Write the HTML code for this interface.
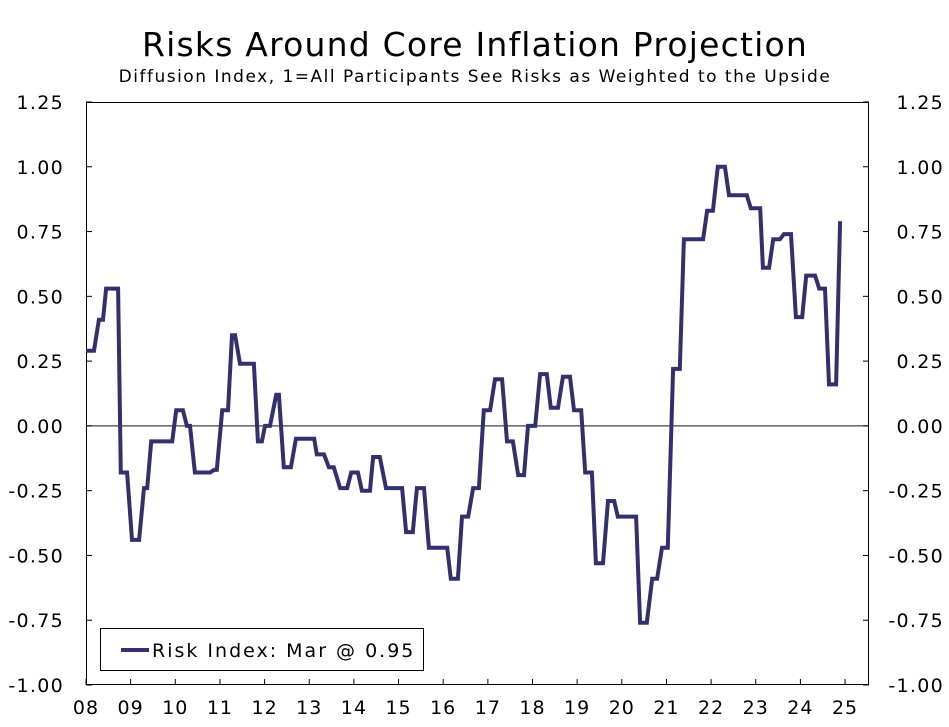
<!DOCTYPE html>
<html><head><meta charset="utf-8">
<style>
html,body{margin:0;padding:0;background:#fff;}
svg{display:block;font-family:"DejaVu Sans","Liberation Sans",sans-serif;}
</style></head>
<body>
<svg id="chart" width="949" height="727" viewBox="0 0 949 727" xmlns="http://www.w3.org/2000/svg">
<text x="475" y="56" text-anchor="middle" font-size="33" letter-spacing="1.2" fill="#000">Risks Around Core Inflation Projection</text>
<text x="475" y="82" text-anchor="middle" font-size="17" letter-spacing="1.5" fill="#000">Diffusion Index, 1=All Participants See Risks as Weighted to the Upside</text>
<g id="axes"></g>
<g id="series"></g>
<g>
<rect x="100.5" y="628.5" width="323" height="42" fill="#fff" stroke="#000" stroke-width="1"/>
<line x1="121" y1="650" x2="149" y2="650" stroke="#33306e" stroke-width="4"/>
<text x="152" y="657" font-size="19" letter-spacing="2" fill="#000">Risk Index: Mar @ 0.95</text>
</g>
</svg>
<script>
const yTicks = [1.25,1.00,0.75,0.50,0.25,0.00,-0.25,-0.50,-0.75,-1.00];
const xTickYears = [2008,2009,2010,2011,2012,2013,2014,2015,2016,2017,2018,2019,2020,2021,2022,2023,2024,2025];
const xTickLabels = ["08","09","10","11","12","13","14","15","16","17","18","19","20","21","22","23","24","25"];
const segStart = [0,0.29,0.45,0.78,1.03,1.30,1.46,2.02,2.26,2.44,2.87,3.05,3.27,3.45,3.85,4.01,4.26,4.43,4.70,5.17,5.44,5.69,5.94,6.18,6.43,6.72,7.17,7.41,7.68,8.17,8.42,8.67,8.91,9.16,9.43,9.68,9.90,10.17,10.41,10.68,10.93,11.18,11.42,11.69,11.91,12.41,12.68,12.90,13.15,13.39,13.91,14.15,14.40,14.89,15.16,15.39,15.63,15.90,16.13,16.42,16.64,16.89];
const segEnd   = [0.18,0.38,0.72,0.92,1.19,1.37,1.93,2.17,2.33,2.78,2.93,3.18,3.34,3.76,3.94,4.12,4.32,4.59,5.11,5.33,5.55,5.85,6.09,6.36,6.58,7.08,7.32,7.57,8.09,8.33,8.56,8.80,9.05,9.32,9.56,9.81,10.06,10.32,10.57,10.84,11.09,11.33,11.58,11.83,12.32,12.56,12.79,13.03,13.30,13.82,14.04,14.31,14.80,15.10,15.30,15.54,15.79,16.04,16.33,16.55,16.80,16.89];
const riskValues = [0.29,0.41,0.53,-0.18,-0.44,-0.24,-0.06,0.06,0.00,-0.18,-0.17,0.06,0.35,0.24,-0.06,0.00,0.12,-0.16,-0.05,-0.11,-0.16,-0.24,-0.18,-0.25,-0.12,-0.24,-0.41,-0.24,-0.47,-0.59,-0.35,-0.24,0.06,0.18,-0.06,-0.19,0.00,0.20,0.07,0.19,0.06,-0.18,-0.53,-0.29,-0.35,-0.76,-0.59,-0.47,0.22,0.72,0.83,1.00,0.89,0.84,0.61,0.72,0.74,0.42,0.58,0.53,0.16,0.79];

const NS="http://www.w3.org/2000/svg";
const L=86,R=869,T=102,B=685;
const yScale=v=>T+(1.25-v)/2.25*(B-T);
const xScale=yr=>L+(yr-2008)*44.65;
function mk(tag,attrs,parent){const e=document.createElementNS(NS,tag);for(const k in attrs)e.setAttribute(k,attrs[k]);parent.appendChild(e);return e;}
const ax=document.getElementById('axes');
let e=mk('rect',{x:L+0.5,y:T+0.5,width:R-L-1,height:B-T-1,fill:'none',stroke:'#000','stroke-width':1},ax);


e=mk('line',{x1:L,x2:R,y1:yScale(0),y2:yScale(0),stroke:'#444','stroke-width':1.2},ax);


yTicks.forEach(v=>{
  const y=yScale(v);
  let t=mk('line',{x1:L,x2:L+6,y1:y,y2:y,stroke:'#000'},ax);
  
  
  t=mk('line',{x1:R-6,x2:R,y1:y,y2:y,stroke:'#000'},ax);
  
  
  const lab=v.toFixed(2);
  let a=mk('text',{x:64,y:y+7,'text-anchor':'end','font-size':19,'letter-spacing':1.3,fill:'#000'},ax);a.textContent=lab;
  
  
  a=mk('text',{x:944,y:y+7,'text-anchor':'end','font-size':19,'letter-spacing':1.3,fill:'#000'},ax);a.textContent=lab;
  
  
});
xTickYears.forEach((yr,i)=>{
  const x=xScale(yr);
  let t=mk('line',{x1:x,x2:x,y1:B,y2:B-6,stroke:'#000'},ax);
  
  
  let a=mk('text',{x:x,y:714,'text-anchor':'middle','font-size':19,'letter-spacing':1,fill:'#000'},ax);a.textContent=xTickLabels[i];
  
  
});
const pts=[];
riskValues.forEach((v,i)=>{
  pts.push(xScale(2008+segStart[i]).toFixed(1)+','+yScale(v).toFixed(1));
  pts.push(xScale(2008+segEnd[i]).toFixed(1)+','+yScale(v).toFixed(1));
});
const line=mk('polyline',{points:pts.join(' '),fill:'none',stroke:'#33306e','stroke-width':4,'stroke-linejoin':'miter'},document.getElementById('series'));


</script>
</body></html>
